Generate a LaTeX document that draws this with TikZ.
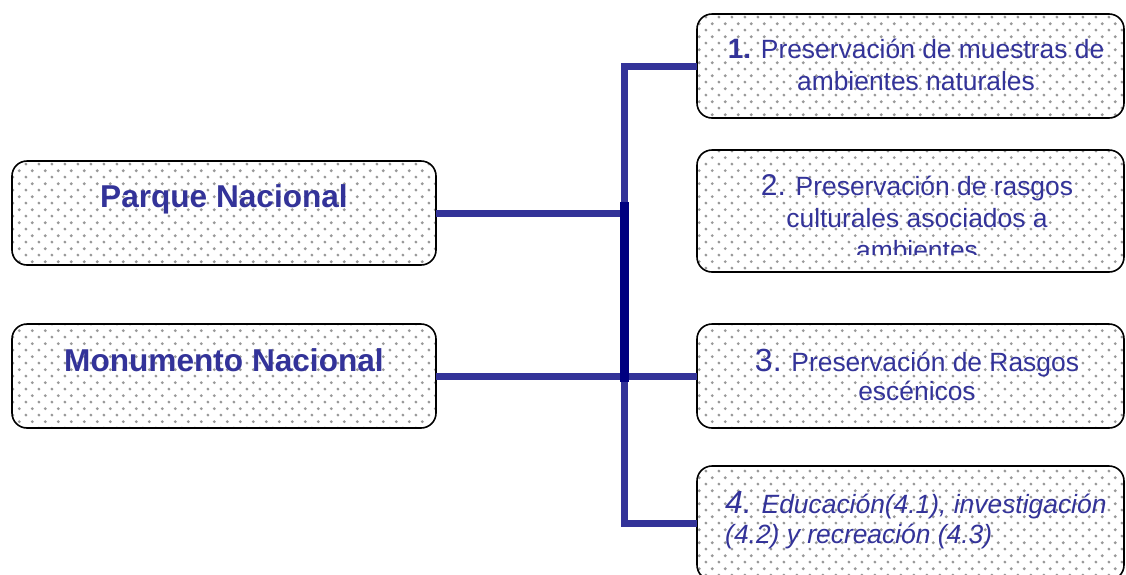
\documentclass[tikz,border=0pt]{standalone}
\usepackage{fontspec}
\setmainfont{Liberation Sans}
\usetikzlibrary{patterns.meta,calc}
\definecolor{tblue}{RGB}{51,51,153}
\definecolor{lblue}{RGB}{51,51,153}
\definecolor{navyline}{RGB}{0,0,128}
\tikzdeclarepattern{
  name=sdots, type=uncolored,
  bottom left={(-2pt,-2pt)}, top right={(11.33pt,11.33pt)},
  tile size={(13.33pt,13.33pt)},
  code={\fill (0pt,0pt) circle (1.6pt); \fill (6.67pt,6.67pt) circle (1.6pt);}
}
\begin{document}
\begin{tikzpicture}[x=1pt,y=-1pt,
  box/.style={draw=black, line width=1.6pt, rounded corners=15pt,
    preaction={fill=white}, pattern=sdots, pattern color=black!40,
    inner sep=0pt, outer sep=0pt, rectangle},
  ltext/.style={font=\bfseries\fontsize{31.6}{36}\selectfont, text=tblue, inner sep=0pt, anchor=base},
  rtext/.style={text=tblue, inner sep=0pt, align=center, anchor=base},
  conn/.style={draw=lblue, line width=7pt},
  spine/.style={draw=navyline, line width=8.5pt}
]
\useasboundingbox (0,0) rectangle (1126,574);
\clip (0,0) rectangle (1126,574);
% boxes
\node[box, minimum width=424pt, minimum height=104pt] (pn) at (224,213) {};
\node[box, minimum width=424pt, minimum height=104pt] (mn) at (224,376) {};
\node[box, minimum width=427pt, minimum height=104pt] (b1) at (910.5,66) {};
\node[box, minimum width=427pt, minimum height=122pt] (b2) at (910.5,211) {};
\node[box, minimum width=427pt, minimum height=104pt] (b3) at (910.5,376) {};
\node[box, minimum width=427pt, minimum height=114pt] (b4) at (910.5,523) {};
% junctions
\coordinate (jp) at (624,213);
\coordinate (jm) at (624,377);
\coordinate (jt) at (624.5,202);
\coordinate (jb) at (624.5,382);
% connectors
\draw[conn] (pn.east) -- (jp);
\draw[conn] (b1.west) -| (jp);
\draw[conn] (mn.east) -- (b3.west);
\draw[conn] (b4.west) -| (jm);
\draw[spine] (jt) -- (jb);
% texts
\node[ltext] (tpn) at (224,207) {Parque Nacional};
\node[ltext] (tmn) at (224,371) {Monumento Nacional};
\node[rtext, font=\fontsize{26.4}{32}\selectfont] (t1) at (916,90) {{\bfseries\fontsize{28}{32}\selectfont 1.} Preservación de muestras de\\ambientes naturales};
\begin{scope}
\clip (697,150) rectangle (1126,254);
\node[rtext, font=\fontsize{26.4}{32}\selectfont] (t2) at (917,259) {{\fontsize{30}{32}\selectfont 2.} Preservación de rasgos\\culturales asociados a\\ambientes};
\end{scope}
\node[rtext, font=\fontsize{26.4}{29}\selectfont] (t3) at (917,400) {{\fontsize{32}{29}\selectfont 3.} Preservación de Rasgos\\escénicos};
\node[rtext, anchor=base west, align=left, font=\itshape\fontsize{26.4}{30}\selectfont] (t4) at (725,543) {{\fontsize{32}{30}\selectfont 4.} Educación(4.1), investigación\\(4.2) y recreación (4.3)};
\end{tikzpicture}
\end{document}
